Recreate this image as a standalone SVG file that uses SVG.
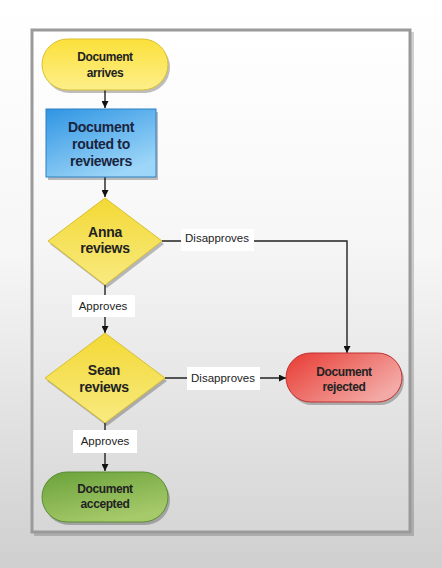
<svg xmlns="http://www.w3.org/2000/svg" width="442" height="568" viewBox="0 0 442 568">
<defs>
<linearGradient id="bg" x1="0" y1="0" x2="0" y2="1"><stop offset="0" stop-color="#ffffff"/><stop offset="0.45" stop-color="#f6f6f6"/><stop offset="1" stop-color="#cfcfcf"/></linearGradient>
<linearGradient id="page" x1="0" y1="0" x2="0" y2="1"><stop offset="0" stop-color="#ffffff"/><stop offset="0.4" stop-color="#f7f7f7"/><stop offset="1" stop-color="#d6d6d6"/></linearGradient>
<linearGradient id="yel" x1="0" y1="0" x2="0" y2="1"><stop offset="0" stop-color="#fbe03a"/><stop offset="1" stop-color="#fdef8a"/></linearGradient>
<linearGradient id="dia" x1="0" y1="0" x2="0" y2="1"><stop offset="0" stop-color="#f3d935"/><stop offset="1" stop-color="#f8ea80"/></linearGradient>
<linearGradient id="blu" x1="0" y1="0" x2="0.6" y2="1"><stop offset="0" stop-color="#2f95e3"/><stop offset="1" stop-color="#9dd6f8"/></linearGradient>
<linearGradient id="red" x1="0" y1="0" x2="1" y2="0.6"><stop offset="0" stop-color="#e83a32"/><stop offset="1" stop-color="#f3aaa6"/></linearGradient>
<linearGradient id="grn" x1="0" y1="0" x2="0.5" y2="1"><stop offset="0" stop-color="#6aa23a"/><stop offset="1" stop-color="#a6c96a"/></linearGradient>
<marker id="ah" viewBox="0 0 10 10" refX="10" refY="5" markerWidth="7" markerHeight="7" markerUnits="userSpaceOnUse" orient="auto"><path d="M0,0 L10,5 L0,10 z" fill="#111"/></marker>
</defs>
<style>
.t{font-family:"Liberation Sans",Arial,sans-serif;font-weight:bold;font-size:12px;fill:#222;text-anchor:middle;letter-spacing:-0.4px}
.tb{font-family:"Liberation Sans",Arial,sans-serif;font-weight:bold;font-size:14px;fill:#1a2440;text-anchor:middle;letter-spacing:-0.3px}
.td{font-family:"Liberation Sans",Arial,sans-serif;font-weight:bold;font-size:14px;fill:#222;text-anchor:middle;letter-spacing:-0.3px}
.lb{font-family:"Liberation Sans",Arial,sans-serif;font-size:11.5px;fill:#222;text-anchor:middle}
.c{stroke:#222;stroke-width:1.4;fill:none}
.sh{fill:#000;opacity:0.25}
</style>
<rect x="0" y="0" width="442" height="568" fill="url(#bg)"/>
<rect x="34" y="32" width="380" height="504" fill="#000" opacity="0.18"/>
<rect x="32" y="30" width="378" height="502" fill="url(#page)" stroke="#9a9a9a" stroke-width="3"/>
<g id="connectors">
<line class="c" x1="105" y1="90" x2="105" y2="108" marker-end="url(#ah)"/>
<line class="c" x1="105" y1="177" x2="105" y2="197" marker-end="url(#ah)"/>
<polyline class="c" points="162,241 347,241 347,353" marker-end="url(#ah)"/>
<line class="c" x1="105" y1="285" x2="105" y2="333" marker-end="url(#ah)"/>
<line class="c" x1="165" y1="378" x2="286" y2="378" marker-end="url(#ah)"/>
<line class="c" x1="105" y1="423" x2="105" y2="471" marker-end="url(#ah)"/>
<g id="lbl-dis1"><rect x="181" y="229" width="73" height="22" fill="#fff"/><text class="lb" x="217" y="242">Disapproves</text></g>
<g id="lbl-app1"><rect x="72" y="295" width="63" height="22" fill="#fff"/><text class="lb" x="103" y="310">Approves</text></g>
<g id="lbl-dis2"><rect x="187" y="367" width="73" height="23" fill="#fff"/><text class="lb" x="223" y="382">Disapproves</text></g>
<g id="lbl-app2"><rect x="73" y="430" width="64" height="23" fill="#fff"/><text class="lb" x="105" y="445">Approves</text></g>
</g>
<g id="n-arrives">
<rect class="sh" x="44" y="42" width="126" height="51" rx="25.5"/>
<rect x="42" y="39" width="126" height="51" rx="25.5" fill="url(#yel)" stroke="#d9bf30" stroke-width="1"/>
<text class="t" x="105" y="61">Document</text><text class="t" x="105" y="77">arrives</text>
</g>
<g id="n-routed">
<rect class="sh" x="48" y="112" width="110" height="68"/>
<rect x="46" y="109" width="110" height="68" fill="url(#blu)" stroke="#2a80c4" stroke-width="1"/>
<text class="tb" x="101" y="132">Document</text><text class="tb" x="101" y="149">routed to</text><text class="tb" x="101" y="166">reviewers</text>
</g>
<g id="n-anna">
<polygon class="sh" points="107,201 164,244 107,288 50,244"/>
<polygon points="105,198 162,241 105,285 48,241" fill="url(#dia)" stroke="#d8c030" stroke-width="1"/>
<text class="td" x="105" y="237">Anna</text><text class="td" x="105" y="253">reviews</text>
</g>
<g id="n-sean">
<polygon class="sh" points="107,336 167,381 107,426 47,381"/>
<polygon points="105,333 165,378 105,423 45,378" fill="url(#dia)" stroke="#d8c030" stroke-width="1"/>
<text class="td" x="104" y="375">Sean</text><text class="td" x="104" y="392">reviews</text>
</g>
<g id="n-rejected">
<rect class="sh" x="288" y="356" width="116" height="49" rx="24.5"/>
<rect x="286" y="353" width="116" height="49" rx="24.5" fill="url(#red)" stroke="#c03030" stroke-width="1"/>
<text class="t" x="344" y="376">Document</text><text class="t" x="344" y="391">rejected</text>
</g>
<g id="n-accepted">
<rect class="sh" x="44" y="475" width="126" height="50" rx="25"/>
<rect x="42" y="472" width="126" height="50" rx="25" fill="url(#grn)" stroke="#5a8c35" stroke-width="1"/>
<text class="t" x="105" y="493">Document</text><text class="t" x="105" y="508">accepted</text>
</g>
</svg>
